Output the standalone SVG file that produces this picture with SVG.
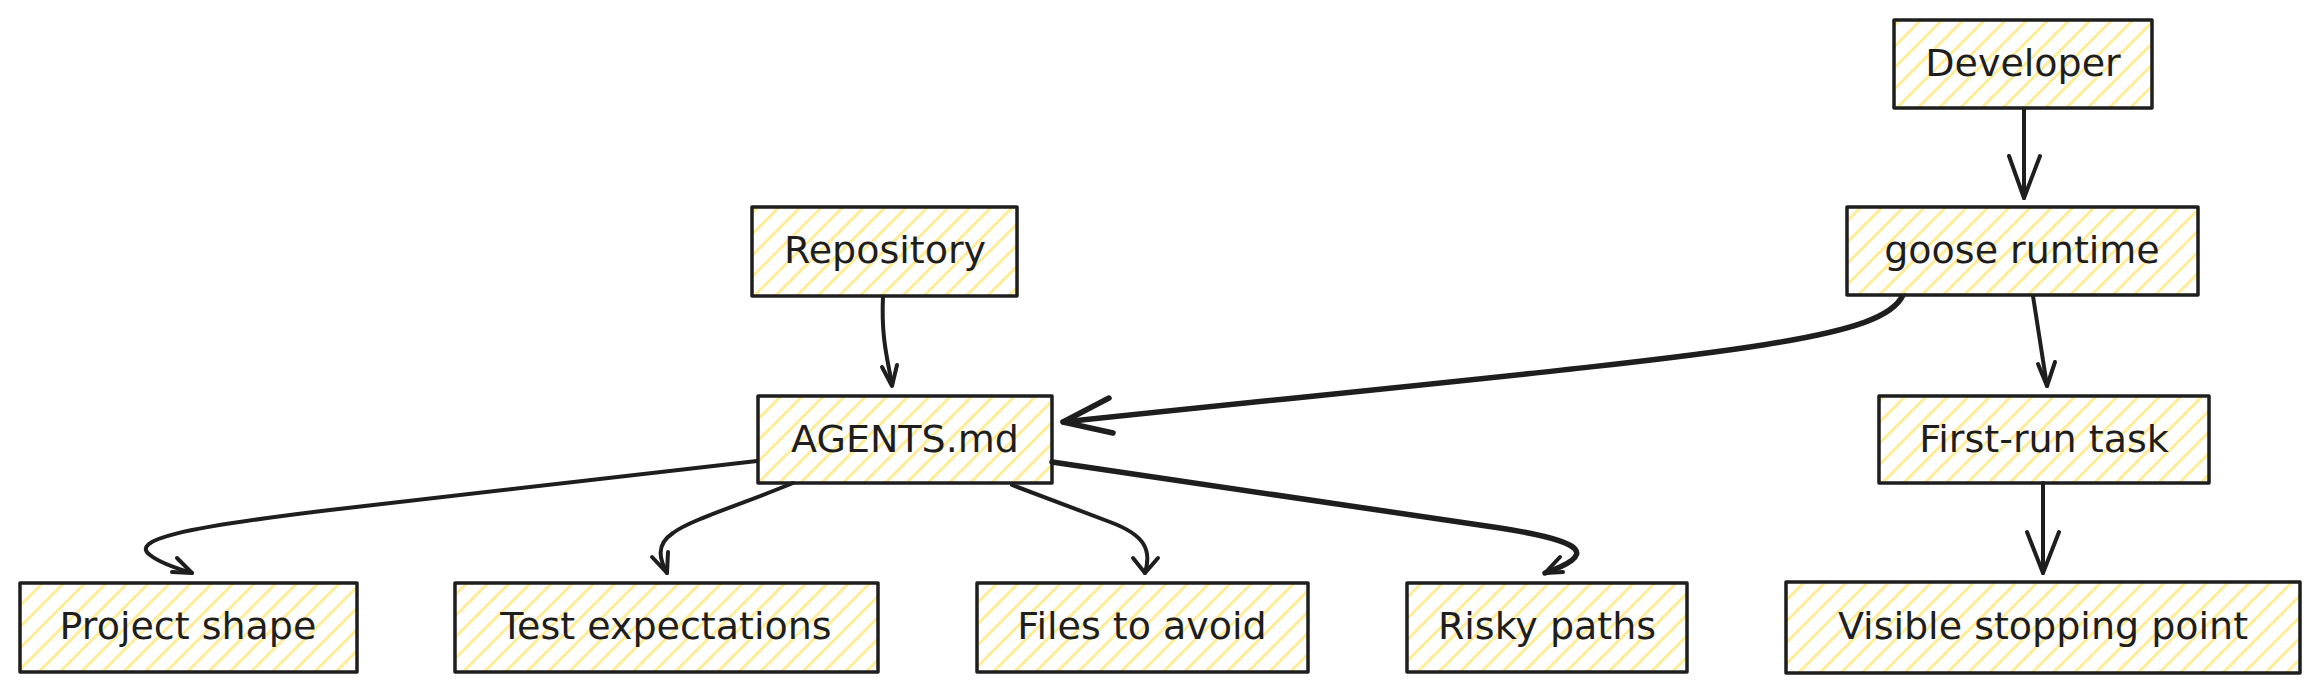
<svg xmlns="http://www.w3.org/2000/svg" width="2320" height="692" viewBox="0 0 2320 692">
<defs>
<pattern id="hatch" width="15" height="15" patternUnits="userSpaceOnUse" patternTransform="rotate(45)">
<line x1="7.5" y1="0" x2="7.5" y2="15" stroke="#ffec99" stroke-width="3"/>
</pattern>
<style>
.box{fill:url(#hatch);stroke:#1e1e1e;stroke-width:3.5;stroke-linejoin:round}
.lbl{font-family:"DejaVu Sans","Liberation Sans",sans-serif;font-size:38px;fill:#1e1e1e;text-anchor:middle}
.edge{fill:none;stroke:#1e1e1e;stroke-width:4;stroke-linecap:round;stroke-linejoin:round}
.thick{stroke-width:5.5}
</style>
</defs>
<rect width="2320" height="692" fill="#ffffff"/>
<g id="connectors">
<path class="edge" d="M2024,108 L2024,198"/>
<path class="edge" d="M2009,156 L2024,198 L2040,156"/>
<path class="edge" d="M2033,296 Q2040,340 2047,386"/>
<path class="edge" d="M2038,364 L2047,386 L2055,362"/>
<path class="edge thick" d="M1903,295 C1880,345 1700,355 1063,422"/>
<path class="edge thick" d="M1109,398 L1063,422 L1113,433"/>
<path class="edge" d="M883,296 C881,340 888,360 892,385"/>
<path class="edge" d="M882,367 L892,386 L897,365"/>
<path class="edge" d="M2043,483 L2043,573"/>
<path class="edge" d="M2027,532 L2043,573 L2059,532"/>
<path class="edge" d="M757,461 L330,510 C180,528 130,540 150,555 C160,563 175,568 192,573"/>
<path class="edge" d="M177,558 L192,573 L172,572"/>
<path class="edge" d="M793,483 C740,505 690,520 673,533 C655,545 660,560 667,573"/>
<path class="edge" d="M652,557 L667,573 L668,552"/>
<path class="edge" d="M1012,485 L1110,522 C1145,535 1152,550 1145,573"/>
<path class="edge" d="M1133,558 L1145,573 L1158,558"/>
<path class="edge thick" d="M1052,462 L1500,528 C1590,542 1595,555 1545,573"/>
<path class="edge" d="M1560,557 L1545,573 L1563,572"/>
</g>
<g id="developer">
<rect class="box" x="1894" y="20" width="258" height="88"/>
<text class="lbl" x="2023" y="76">Developer</text>
</g>
<g id="goose-runtime">
<rect class="box" x="1847" y="207" width="351" height="88"/>
<text class="lbl" x="2022" y="263">goose runtime</text>
</g>
<g id="repository">
<rect class="box" x="752" y="207" width="265" height="89"/>
<text class="lbl" x="885" y="263">Repository</text>
</g>
<g id="agents-md">
<rect class="box" x="758" y="396" width="294" height="87"/>
<text class="lbl" x="905" y="452">AGENTS.md</text>
</g>
<g id="first-run-task">
<rect class="box" x="1879" y="396" width="330" height="87"/>
<text class="lbl" x="2044" y="452">First-run task</text>
</g>
<g id="project-shape">
<rect class="box" x="20" y="583" width="337" height="89"/>
<text class="lbl" x="188" y="639">Project shape</text>
</g>
<g id="test-expectations">
<rect class="box" x="455" y="583" width="423" height="89"/>
<text class="lbl" x="666" y="639">Test expectations</text>
</g>
<g id="files-to-avoid">
<rect class="box" x="977" y="583" width="331" height="89"/>
<text class="lbl" x="1142" y="639">Files to avoid</text>
</g>
<g id="risky-paths">
<rect class="box" x="1407" y="583" width="280" height="89"/>
<text class="lbl" x="1547" y="639">Risky paths</text>
</g>
<g id="visible-stopping-point">
<rect class="box" x="1786" y="582" width="514" height="91"/>
<text class="lbl" x="2043" y="639">Visible stopping point</text>
</g>
</svg>
